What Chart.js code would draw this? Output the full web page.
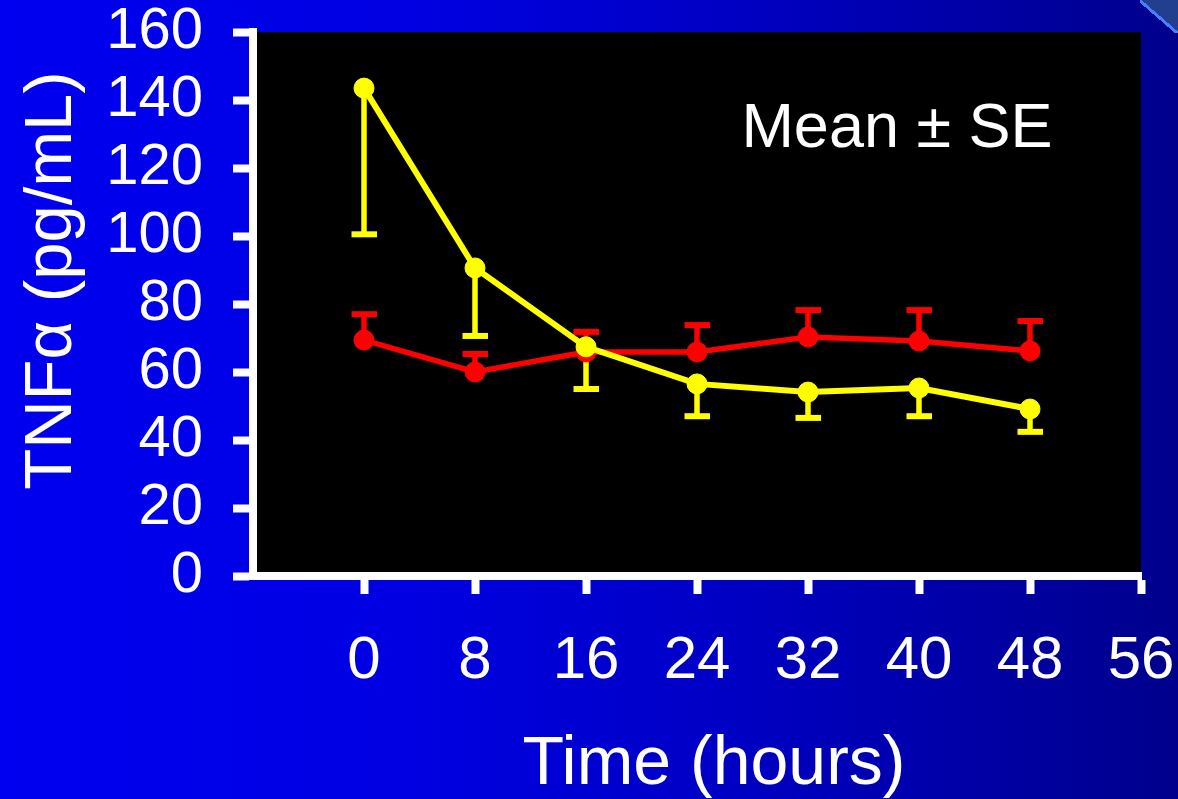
<!DOCTYPE html>
<html><head><meta charset="utf-8">
<script src="https://cdn.jsdelivr.net/npm/chart.js@4"></script>
<style>
html,body{margin:0;padding:0;}
body{width:1178px;height:799px;overflow:hidden;position:relative;
  background:linear-gradient(to right,#0000f0 0%,#0000e2 35%,#0000c4 62%,#00008c 100%);}
#wrap{position:absolute;left:0;top:0;width:1178px;height:799px;}
#corner{position:absolute;left:1140px;top:0;width:38px;height:33px;
  background:linear-gradient(to top right, transparent calc(50% - 2px), #4a7cff calc(50% - 2px), #4a7cff calc(50% + 1px), #223f8f calc(50% + 1px));}
</style></head>
<body>
<div id="wrap"><canvas id="c" width="1178" height="799"></canvas></div>
<div id="corner"></div>
<script>
// ---- data ----
const hours = [0, 8, 16, 24, 32, 40, 48];
const xTickValues = [0, 8, 16, 24, 32, 40, 48, 56];
const yTickValues = [0, 20, 40, 60, 80, 100, 120, 140, 160];
const yellowMean = [143.5, 90.6, 67.4, 56.5, 54.1, 55.3, 49.1];
const yellowSE   = [43.0, 20.0, 12.4, 9.5, 7.6, 8.3, 6.7];
const redMean    = [69.4, 60.0, 65.9, 65.9, 70.3, 69.1, 66.2];
const redSE      = [7.6, 5.3, 5.9, 7.9, 7.9, 9.1, 8.8];
const xTitle = 'Time (hours)';
const yTitle = 'TNF\u03B1 (pg/mL)';
const noteText = 'Mean \u00B1 SE';

const FONT = "'Liberation Sans', Arial, sans-serif";
Chart.defaults.font.family = FONT;

const errorSets = [yellowSE, redSE];
const errorDirs = [-1, 1];

const chartBg = {
  id: 'chartBg',
  beforeDraw(chart) {
    const {ctx, chartArea: a} = chart;
    ctx.save();
    ctx.fillStyle = '#000';
    ctx.fillRect(a.left, a.top, a.right - a.left, a.bottom - a.top);
    ctx.restore();
  }
};

const errorBars = {
  id: 'errorBars',
  beforeDatasetsDraw(chart) {
    const {ctx, scales: {x, y}} = chart;
    chart.data.datasets.forEach((ds, i) => {
      const errs = errorSets[i], dir = errorDirs[i];
      ds.data.forEach((p, j) => {
        const px = x.getPixelForValue(p.x);
        const py0 = y.getPixelForValue(p.y);
        const py1 = y.getPixelForValue(p.y + dir * errs[j]);
        ctx.save();
        ctx.strokeStyle = ds.borderColor;
        ctx.lineWidth = 5.5;
        ctx.beginPath(); ctx.moveTo(px, py0); ctx.lineTo(px, py1); ctx.stroke();
        ctx.lineWidth = 6;
        ctx.beginPath(); ctx.moveTo(px - 12.5, py1); ctx.lineTo(px + 13, py1); ctx.stroke();
        ctx.restore();
      });
    });
  }
};

const note = {
  id: 'note',
  afterDraw(chart) {
    const {ctx, chartArea: a} = chart;
    ctx.save();
    ctx.fillStyle = '#fff';
    ctx.font = '63px ' + FONT;
    ctx.textAlign = 'center';
    ctx.textBaseline = 'middle';
    ctx.fillText(noteText, a.right - 244, a.top + 98);
    ctx.restore();
  }
};

new Chart(document.getElementById('c'), {
  type: 'line',
  data: {
    datasets: [
      {
        label: 'Series 1',
        data: hours.map((h, i) => ({x: h, y: yellowMean[i]})),
        borderColor: '#ffff00', backgroundColor: '#ffff00',
        borderWidth: 6, pointRadius: 10, pointBorderWidth: 1, tension: 0
      },
      {
        label: 'Series 2',
        data: hours.map((h, i) => ({x: h, y: redMean[i]})),
        borderColor: '#ff0000', backgroundColor: '#ff0000',
        borderWidth: 5.5, pointRadius: 10, pointBorderWidth: 1, tension: 0
      }
    ]
  },
  options: {
    responsive: false,
    animation: false,
    layout: {padding: {top: 32, right: 37, bottom: 0, left: 0}},
    plugins: {legend: {display: false}, tooltip: {enabled: false}},
    scales: {
      x: {
        type: 'linear', min: -8, max: 56,
        afterBuildTicks: s => { s.ticks = xTickValues.map(v => ({value: v})); },
        afterFit: s => { s.height = 223; s.paddingLeft = 0; s.paddingRight = 0; },
        border: {color: '#fff', width: 8},
        grid: {drawOnChartArea: false, color: '#fff', tickColor: '#fff', tickLength: 18, tickWidth: 8},
        ticks: {color: '#fff', font: {size: 60, lineHeight: 1.2}, padding: 31, maxRotation: 0, autoSkip: false},
        title: {display: true, text: '\u2002' + xTitle, color: '#fff', font: {size: 68, lineHeight: 1}, padding: {top: 0, bottom: 0}}
      },
      y: {
        min: 0, max: 160,
        afterBuildTicks: s => { s.ticks = yTickValues.map(v => ({value: v})); },
        afterFit: s => { s.width = 253; s.paddingTop = 0; s.paddingBottom = 0; },
        border: {color: '#fff', width: 8},
        grid: {drawOnChartArea: false, color: '#fff', tickColor: '#fff', tickLength: 20, tickWidth: 8},
        ticks: {color: '#fff', font: {size: 58, lineHeight: 1}, padding: 30},
        title: {display: true, text: '\u2002\u2009' + yTitle, color: '#fff', font: {size: 67, lineHeight: 1}, padding: {top: 19, bottom: 0}}
      }
    }
  },
  plugins: [chartBg, errorBars, note]
});
</script>
</body></html>
